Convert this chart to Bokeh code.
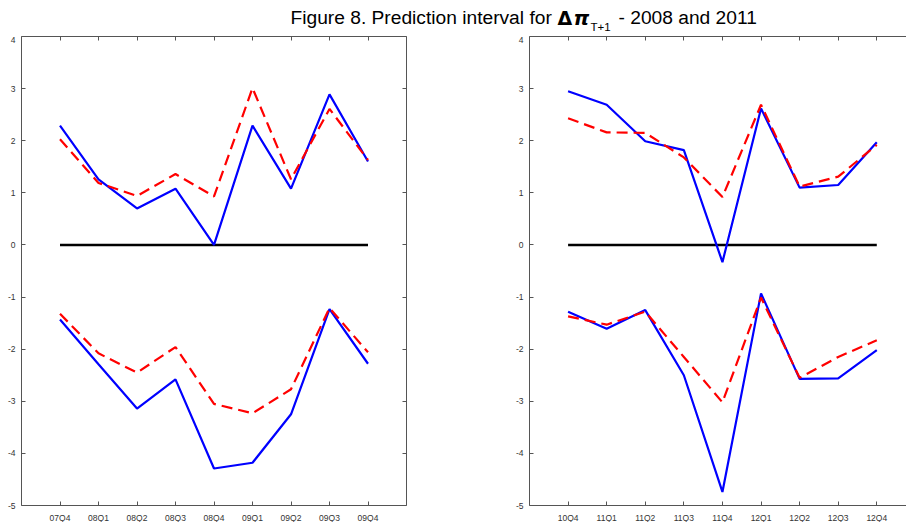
from bokeh.plotting import figure
from bokeh.models import Range1d, FixedTicker, LinearAxis, Label, ColumnDataSource
from bokeh.layouts import column, row
from bokeh.embed import file_html
from bokeh.resources import INLINE

# Quarter labels for the two forecast windows
quarters_2008 = ["07Q4", "08Q1", "08Q2", "08Q3", "08Q4", "09Q1", "09Q2", "09Q3", "09Q4"]
quarters_2011 = ["10Q4", "11Q1", "11Q2", "11Q3", "11Q4", "12Q1", "12Q2", "12Q3", "12Q4"]

# Interval bounds, 2008 window (solid blue / dashed red)
upper_blue_2008 = [2.29, 1.26, 0.70, 1.08, 0.00, 2.29, 1.08, 2.89, 1.60]
upper_red_2008 = [2.03, 1.19, 0.94, 1.36, 0.93, 3.01, 1.26, 2.61, 1.63]
lower_blue_2008 = [-1.43, -2.29, -3.14, -2.58, -4.29, -4.18, -3.25, -1.23, -2.28]
lower_red_2008 = [-1.32, -2.08, -2.45, -1.96, -3.05, -3.23, -2.77, -1.21, -2.06]

# Interval bounds, 2011 window
upper_blue_2011 = [2.95, 2.69, 1.99, 1.82, -0.33, 2.62, 1.10, 1.15, 1.97]
upper_red_2011 = [2.43, 2.16, 2.15, 1.68, 0.92, 2.69, 1.12, 1.31, 1.92]
lower_blue_2011 = [-1.28, -1.61, -1.25, -2.50, -4.74, -0.93, -2.57, -2.56, -2.02]
lower_red_2011 = [-1.37, -1.53, -1.28, -2.15, -3.02, -1.01, -2.55, -2.15, -1.83]

# Zero reference line
zero_line = [0, 0, 0, 0, 0, 0, 0, 0, 0]

# Vertical axis ticks
y_ticks = [-5, -4, -3, -2, -1, 0, 1, 2, 3, 4]
y_tick_labels = ["-5", "-4", "-3", "-2", "-1", "0", "1", "2", "3", "4"]

AXIS_COLOR = "#555555"
LABEL_COLOR = "#333333"
FONT = "Liberation Sans"
TITLE_SIZE = "19.2px"


def style_axis(ax, ticks, show_labels, standoff=6):
    ax.ticker = FixedTicker(ticks=ticks)
    ax.axis_line_color = AXIS_COLOR
    ax.axis_line_width = 1
    ax.major_tick_line_color = AXIS_COLOR
    ax.major_tick_in = 4
    ax.major_tick_out = 0
    ax.minor_tick_in = 0
    ax.minor_tick_out = 0
    ax.minor_tick_line_color = None
    ax.major_label_text_font = FONT
    if show_labels:
        ax.major_label_text_color = LABEL_COLOR
        ax.major_label_text_font_size = "8.5px"
        ax.major_label_standoff = standoff
    else:
        # box edge only: ticks without labels
        ax.major_label_text_color = None
        ax.major_label_text_font_size = "1px"
        ax.major_label_standoff = 0


def make_panel(quarters, ub, ur, lb, lr, x_end, frame_width, border_right, box_right):
    p = figure(
        frame_width=frame_width, frame_height=469,
        x_range=Range1d(-1, x_end), y_range=Range1d(-5, 4),
        output_backend="svg", toolbar_location=None,
        min_border_left=21, min_border_right=border_right,
        min_border_top=0, min_border_bottom=17,
    )
    p.outline_line_color = None
    p.grid.visible = False
    p.background_fill_color = "white"
    p.border_fill_color = "white"

    xs = list(range(len(quarters)))
    src = ColumnDataSource(dict(x=xs, zero=zero_line, ub=ub, ur=ur, lb=lb, lr=lr))

    p.line("x", "zero", source=src, line_color="black", line_width=2.5)
    p.line("x", "ub", source=src, line_color="#0000ff", line_width=2.2)
    p.line("x", "lb", source=src, line_color="#0000ff", line_width=2.2)
    p.line("x", "ur", source=src, line_color="#ff0000", line_width=2.2, line_dash="11 6")
    p.line("x", "lr", source=src, line_color="#ff0000", line_width=2.2, line_dash="11 6")

    # bottom axis with quarter names
    xa = p.xaxis[0]
    style_axis(xa, xs, True, standoff=7)
    xa.major_label_overrides = {i: q for i, q in enumerate(quarters)}

    # left axis with values
    ya = p.yaxis[0]
    style_axis(ya, y_ticks, True, standoff=6)
    ya.major_label_overrides = {t: s for t, s in zip(y_ticks, y_tick_labels)}

    # box edges with mirrored ticks
    top = LinearAxis()
    style_axis(top, xs, False)
    p.add_layout(top, "above")
    if box_right:
        rt = LinearAxis()
        style_axis(rt, y_ticks, False)
        p.add_layout(rt, "right")
    return p


p1 = make_panel(quarters_2008, upper_blue_2008, upper_red_2008, lower_blue_2008, lower_red_2008,
                9, 385, 102, True)
p2 = make_panel(quarters_2011, upper_blue_2011, upper_red_2011, lower_blue_2011, lower_red_2011,
                8.77, 377, 0, False)

# Title strip
p0 = figure(frame_width=906, frame_height=36, x_range=Range1d(0, 906), y_range=Range1d(0, 36),
            x_axis_type=None, y_axis_type=None, output_backend="svg", toolbar_location=None,
            min_border=0)
p0.outline_line_color = None
p0.grid.visible = False
p0.add_layout(Label(x=290, y=18.7, text="Figure 8. Prediction interval for", text_font=FONT,
                    text_font_size=TITLE_SIZE, text_baseline="alphabetic", text_color="black"))
p0.add_layout(Label(x=557, y=18.7, text="\u0394", text_font="DejaVu Sans", text_font_style="bold",
                    text_font_size="19px", text_baseline="alphabetic", text_color="black"))
p0.add_layout(Label(x=573, y=18.7, text="\u03c0", text_font="DejaVu Sans", text_font_style="bold italic",
                    text_font_size="20px", text_baseline="alphabetic", text_color="black"))
p0.add_layout(Label(x=590, y=9.3, text="T+1", text_font=FONT,
                    text_font_size="11.5px", text_baseline="alphabetic", text_color="black"))
p0.add_layout(Label(x=618, y=18.7, text="- 2008 and 2011", text_font=FONT,
                    text_font_size=TITLE_SIZE, text_baseline="alphabetic", text_color="black"))

layout = column(p0, row(p1, p2, spacing=0), spacing=0)

with open("out.html", "w") as f:
    f.write(file_html(layout, INLINE))
